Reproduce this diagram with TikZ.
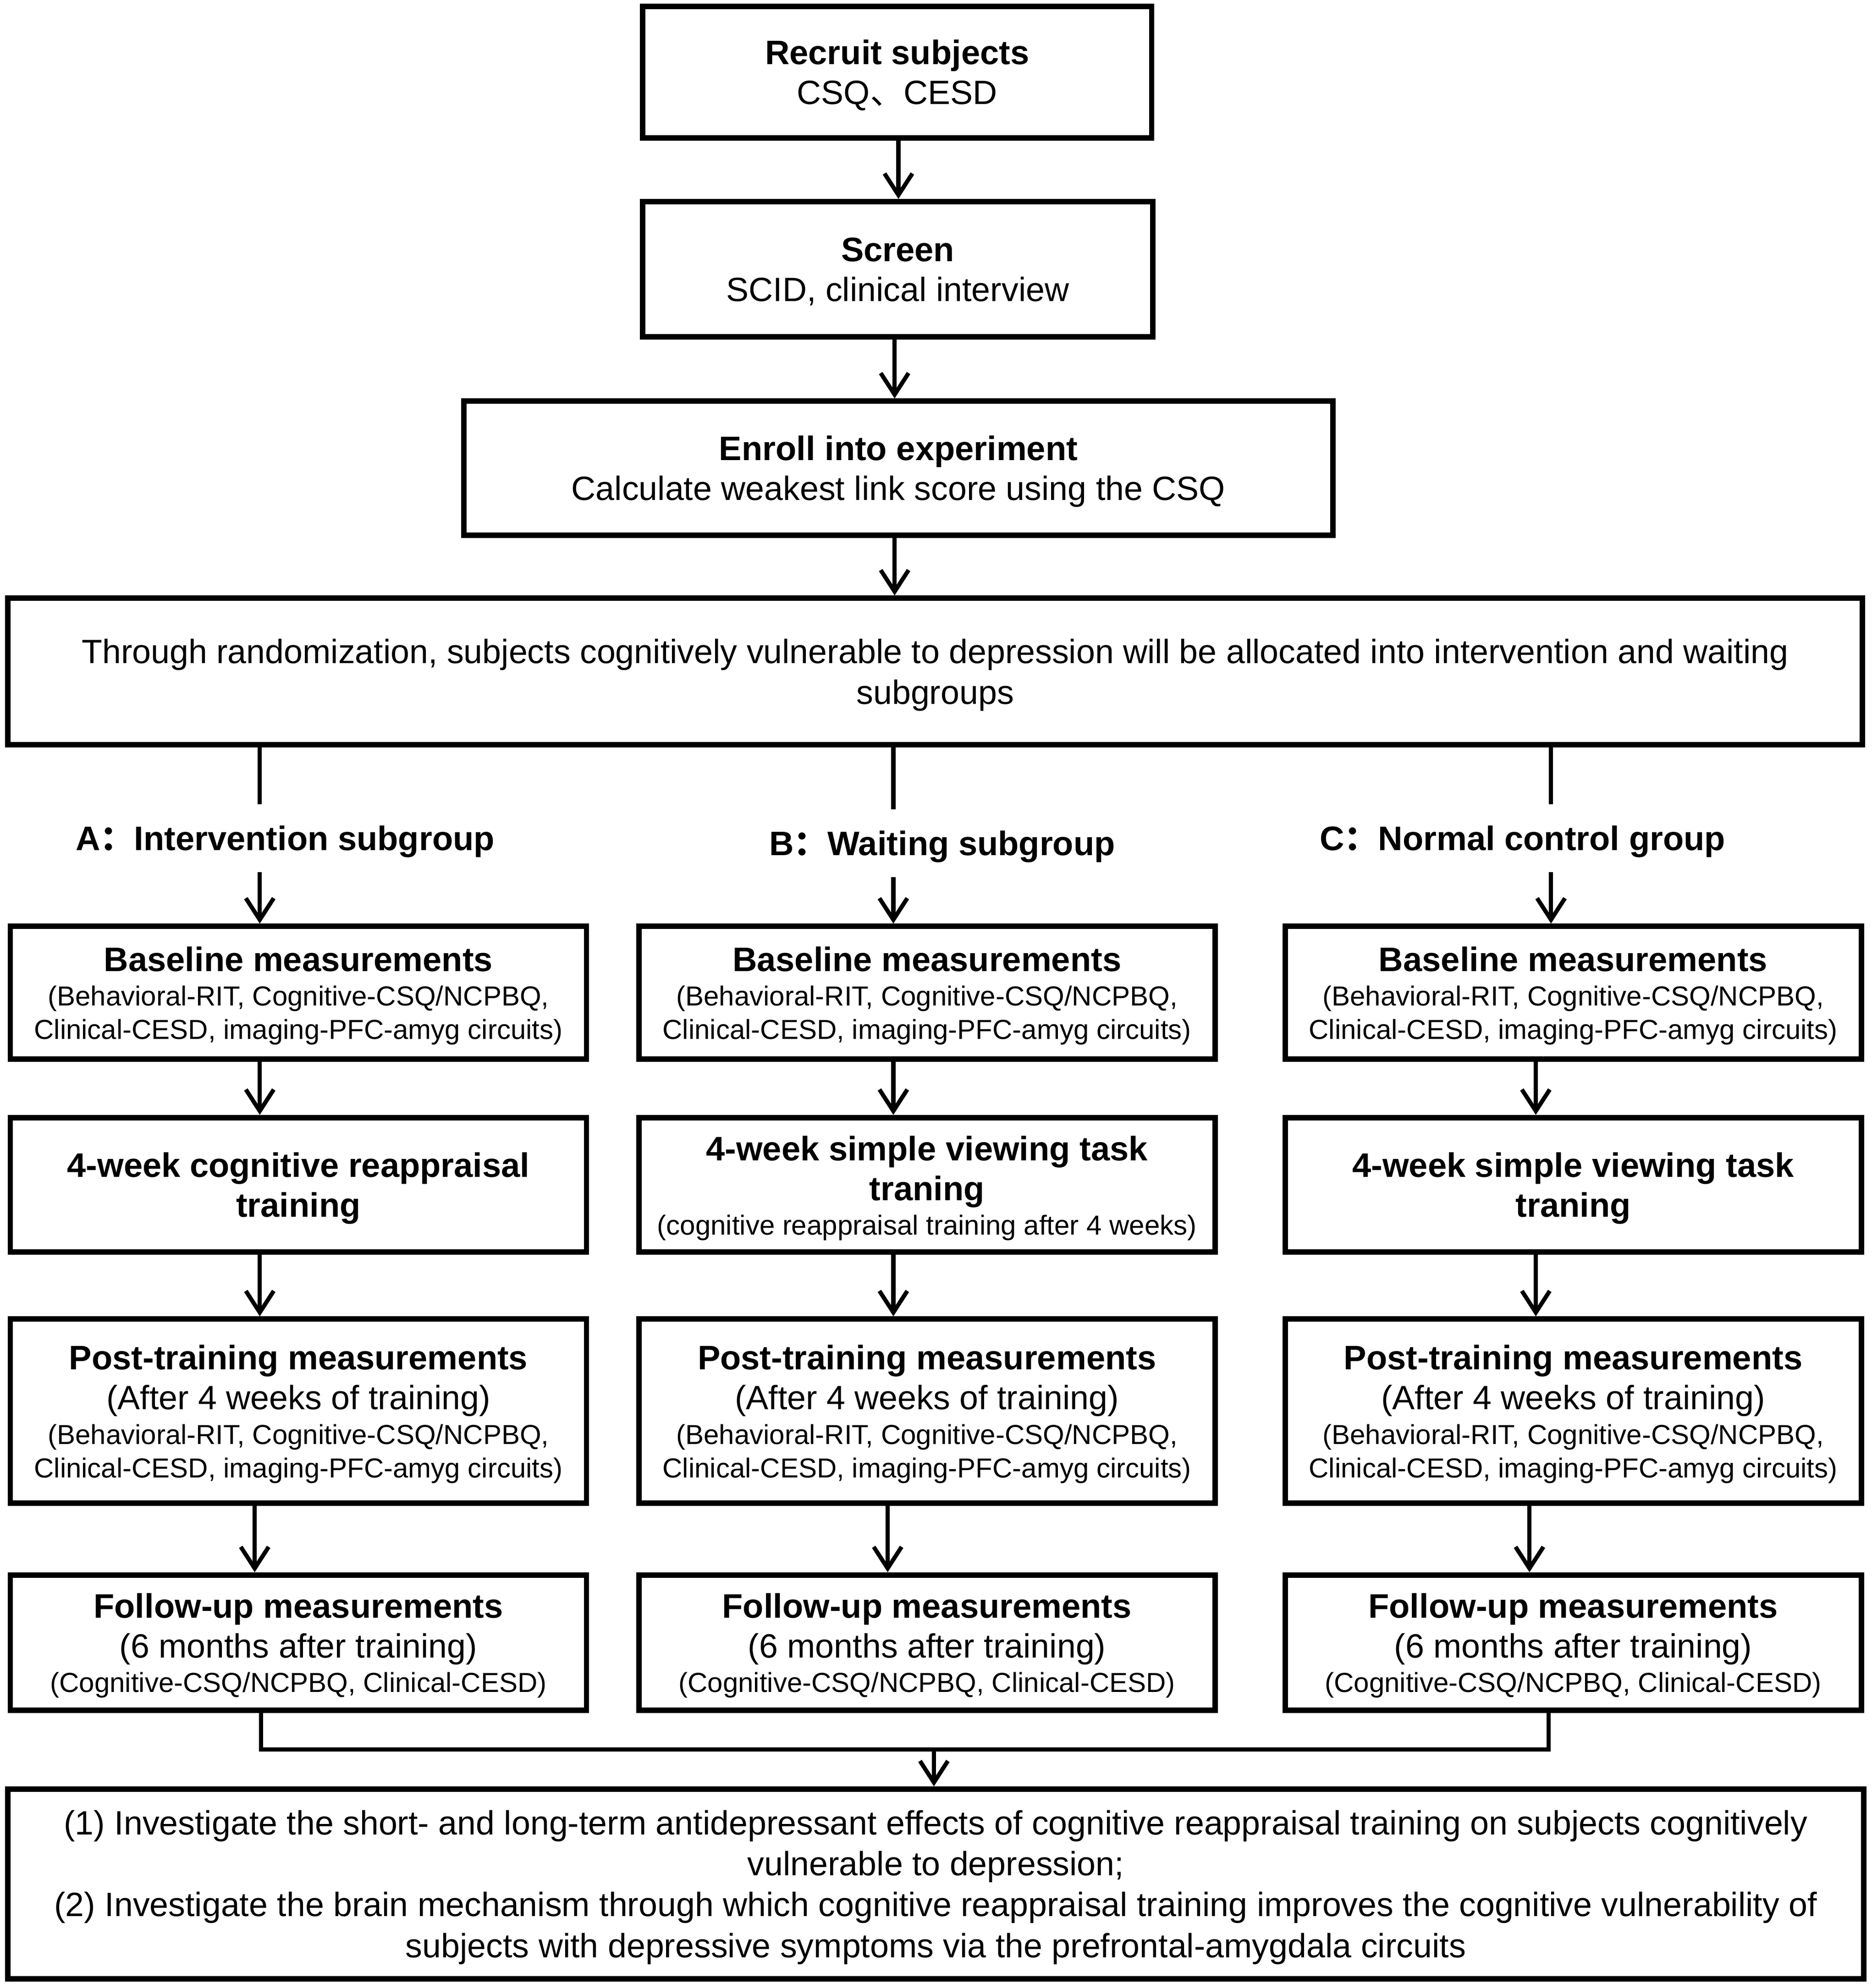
\documentclass[tikz,border=0pt]{standalone}
\usepackage{fontspec}
\setmainfont{Liberation Sans}
\newfontfamily\cjk{Noto Sans CJK SC}
\usetikzlibrary{arrows.meta}
% one text line: #1 font switch, #2 size, #3 pitch, #4 depth, #5 text
\newcommand\Ln[5]{{\lineskip=0pt\lineskiplimit=0pt\parskip=0pt\fontsize{#2}{0}\selectfont#1%
  \spaceskip=\fontdimen2\font\relax\xspaceskip=\fontdimen2\font\relax
  \leftskip=0pt plus 1fil\rightskip=0pt plus 1fil\parfillskip=0pt\relax
  \noindent\rule[-#4pt]{0pt}{#3pt}#5\par}}
\newcommand\Lb[1]{\Ln{\bfseries}{26.8}{31.5}{6.1}{#1}}
\newcommand\Lr[1]{\Ln{}{26.6}{31.5}{6.17}{#1}}
\newcommand\Ls[1]{\Ln{}{21.7}{26.5}{5.44}{#1}}
\newcommand\Lp[1]{\Ln{}{26.6}{32.3}{6.57}{#1}}
\begin{document}
\begin{tikzpicture}[x=1pt,y=-1pt,
  box/.style={draw=black, line width=4.3pt, inner sep=0pt, align=center, text=black},
  colbox/.style={box, minimum width=454.7pt, text width=445pt},
  lab/.style={inner sep=0pt, align=center, text width=420pt, minimum height=53pt},
  conn/.style={line width=3.3pt, draw=black},
  arr/.style={conn, -{Straight Barb[length=17pt,width=22pt]}}]
\useasboundingbox (0,0) rectangle (1477,1569.2);
% top chain
\node[box, minimum width=401.7pt, minimum height=103.7pt, text width=390pt] (r1) at (708,57)
  {\Lb{Recruit subjects}\Lr{CSQ{\cjk 、}CESD}};
\node[box, minimum width=402.7pt, minimum height=106.7pt, text width=390pt] (r2) at (708.5,212.5)
  {\Lb{Screen}\Lr{SCID, clinical interview}};
\node[box, minimum width=685.7pt, minimum height=105.7pt, text width=670pt] (r3) at (709,369.5)
  {\Lb{Enroll into experiment}\Lr{Calculate weakest link score using the CSQ}};
\node[box, minimum width=1463.7pt, minimum height=115.7pt, text width=1440pt] (r4) at (738,530)
  {\Lp{Through randomization, subjects cognitively vulnerable to depression will be allocated into intervention and waiting}\Lp{subgroups}};
% group labels
\node[lab] (la) at (225,661.5) {\Lb{A{\cjk ：}Intervention subgroup}};
\node[lab] (lb) at (743.5,665.5) {\Lb{B{\cjk ：}Waiting subgroup}};
\node[lab] (lc) at (1201.5,661.5) {\Lb{C{\cjk ：}Normal control group}};
% row 1
\node[colbox, minimum height=104.7pt] (a1) at (235.5,783.5)
  {\Lb{Baseline measurements}\Ls{(Behavioral-RIT, Cognitive-CSQ/NCPBQ,}\Ls{Clinical-CESD, imaging-PFC-amyg circuits)}};
\node[colbox, minimum height=104.7pt] (b1) at (731.5,783.5)
  {\Lb{Baseline measurements}\Ls{(Behavioral-RIT, Cognitive-CSQ/NCPBQ,}\Ls{Clinical-CESD, imaging-PFC-amyg circuits)}};
\node[colbox, minimum height=104.7pt] (c1) at (1241.5,783.5)
  {\Lb{Baseline measurements}\Ls{(Behavioral-RIT, Cognitive-CSQ/NCPBQ,}\Ls{Clinical-CESD, imaging-PFC-amyg circuits)}};
% row 2
\node[colbox, minimum height=106.2pt] (a2) at (235.5,935.25)
  {\Lb{4-week cognitive reappraisal}\Lb{training}};
\node[colbox, minimum height=106.2pt] (b2) at (731.5,935.25)
  {\Lb{4-week simple viewing task}\Lb{traning}\Ls{(cognitive reappraisal training after 4 weeks)}};
\node[colbox, minimum height=106.2pt] (c2) at (1241.5,935.25)
  {\Lb{4-week simple viewing task}\Lb{traning}};
% row 3
\node[colbox, minimum height=145.2pt] (a3) at (235.5,1113.75)
  {\Lb{Post-training measurements}\Lr{(After 4 weeks of training)}\Ls{(Behavioral-RIT, Cognitive-CSQ/NCPBQ,}\Ls{Clinical-CESD, imaging-PFC-amyg circuits)}};
\node[colbox, minimum height=145.2pt] (b3) at (731.5,1113.75)
  {\Lb{Post-training measurements}\Lr{(After 4 weeks of training)}\Ls{(Behavioral-RIT, Cognitive-CSQ/NCPBQ,}\Ls{Clinical-CESD, imaging-PFC-amyg circuits)}};
\node[colbox, minimum height=145.2pt] (c3) at (1241.5,1113.75)
  {\Lb{Post-training measurements}\Lr{(After 4 weeks of training)}\Ls{(Behavioral-RIT, Cognitive-CSQ/NCPBQ,}\Ls{Clinical-CESD, imaging-PFC-amyg circuits)}};
% row 4
\node[colbox, minimum height=106.7pt] (a4) at (235.5,1296.5)
  {\Lb{Follow-up measurements}\Lr{(6 months after training)}\Ls{(Cognitive-CSQ/NCPBQ, Clinical-CESD)}};
\node[colbox, minimum height=106.7pt] (b4) at (731.5,1296.5)
  {\Lb{Follow-up measurements}\Lr{(6 months after training)}\Ls{(Cognitive-CSQ/NCPBQ, Clinical-CESD)}};
\node[colbox, minimum height=106.7pt] (c4) at (1241.5,1296.5)
  {\Lb{Follow-up measurements}\Lr{(6 months after training)}\Ls{(Cognitive-CSQ/NCPBQ, Clinical-CESD)}};
% final box
\node[box, minimum width=1464.7pt, minimum height=149.7pt, text width=1440pt] (fin) at (738.5,1487)
  {\Lp{(1) Investigate the short- and long-term antidepressant effects of cognitive reappraisal training on subjects cognitively}\Lp{vulnerable to depression;}\Lp{(2) Investigate the brain mechanism through which cognitive reappraisal training improves the cognitive vulnerability of}\Lp{subjects with depressive symptoms via the prefrontal-amygdala circuits}};
% axis coordinates for connectors
\coordinate (t1) at (709,0);
\coordinate (t2) at (706,0);
\coordinate (kA1) at (205,0);
\coordinate (kA2) at (201,0);
\coordinate (kB1) at (705,0);
\coordinate (kB2) at (700.5,0);
\coordinate (kC1) at (1224,0);
\coordinate (kC2) at (1212,0);
\coordinate (kC3) at (1207,0);
\coordinate (mL) at (206,1381);
\coordinate (mR) at (1222,1381);
\coordinate (mM) at (737,1381);
% top arrows
\draw[arr] (r1.south -| t1) -- (r2.north -| t1);
\draw[arr] (r2.south -| t2) -- (r3.north -| t2);
\draw[arr] (r3.south -| t2) -- (r4.north -| t2);
% split lines
\draw[conn] (r4.south -| kA1) -- (la.north -| kA1);
\draw[conn] (r4.south -| kB1) -- (lb.north -| kB1);
\draw[conn] (r4.south -| kC1) -- (lc.north -| kC1);
\draw[arr] (la.south -| kA1) -- (a1.north -| kA1);
\draw[arr] (lb.south -| kB1) -- (b1.north -| kB1);
\draw[arr] (lc.south -| kC1) -- (c1.north -| kC1);
% column arrows
\draw[arr] (a1.south -| kA1) -- (a2.north -| kA1);
\draw[arr] (b1.south -| kB1) -- (b2.north -| kB1);
\draw[arr] (c1.south -| kC2) -- (c2.north -| kC2);
\draw[arr] (a2.south -| kA1) -- (a3.north -| kA1);
\draw[arr] (b2.south -| kB1) -- (b3.north -| kB1);
\draw[arr] (c2.south -| kC2) -- (c3.north -| kC2);
\draw[arr] (a3.south -| kA2) -- (a4.north -| kA2);
\draw[arr] (b3.south -| kB2) -- (b4.north -| kB2);
\draw[arr] (c3.south -| kC3) -- (c4.north -| kC3);
% merge
\draw[conn, line join=miter] (a4.south -| mL) -- (mL) -- (mR) -- (c4.south -| mR);
\draw[arr] (mM) -- (fin.north -| mM);
\end{tikzpicture}
\end{document}
